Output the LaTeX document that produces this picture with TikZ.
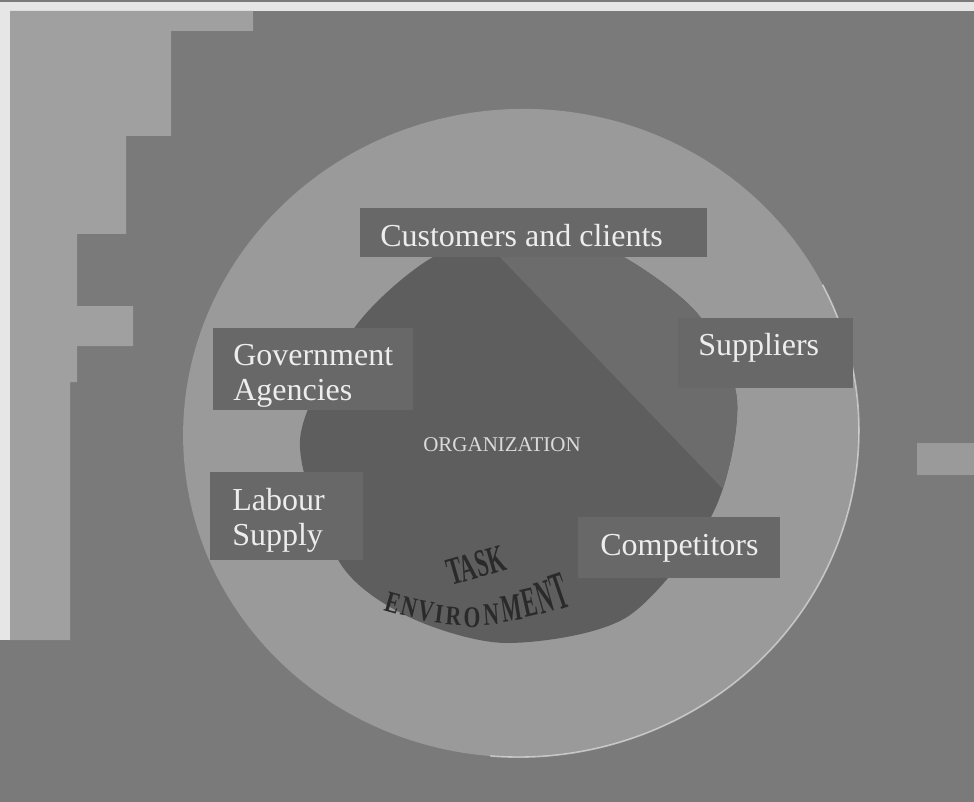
\documentclass[tikz,border=0pt]{standalone}
\usepackage{fontspec}
\setmainfont{Liberation Serif}
\definecolor{bggray}{HTML}{7A7A7A}
\definecolor{papergray}{HTML}{E6E6E6}
\definecolor{scanlight}{HTML}{A0A0A0}
\definecolor{ringgray}{HTML}{9A9A9A}
\definecolor{orggray}{HTML}{5E5E5E}
\definecolor{facegray}{HTML}{6C6C6C}
\definecolor{panelgray}{HTML}{686868}
\definecolor{paneltxt}{HTML}{EDEDED}
\definecolor{orgtxt}{HTML}{DADADA}
\definecolor{wordink}{HTML}{2A2A2A}
\newcommand{\orgshape}{plot[smooth cycle] coordinates {(300,440) (340,563) (409,617) (507,643) (627,617) (713,513) (737,400) (697,313) (610,250) (520,232) (433,257) (355,327)}}

\begin{document}
\begin{tikzpicture}[
    x=0.75pt, y=-0.75pt,
    panel/.style={rectangle, fill=panelgray, inner sep=0pt, anchor=north west},
    paneltext/.style={anchor=base west, inner sep=0pt, text=paneltxt, align=left, font=\fontsize{24}{26.25}\selectfont},
    wordart/.style={anchor=base, inner sep=0pt, transform shape, text=wordink, font=\fontsize{22.5}{24}\selectfont\bfseries}
]
\useasboundingbox (0,0) rectangle (974,802);
% scanned page
\fill[bggray] (0,0) rectangle (974,802);
\fill[papergray] (0,2) rectangle (974,11);
\fill[papergray] (0,11) rectangle (10,640);
\fill[scanlight] (10,11) -- (253,11) -- (253,31) -- (171,31) -- (171,136) -- (126,136) -- (126,234) -- (77,234) -- (77,306) -- (133,306) -- (133,346) -- (77,346) -- (77,382) -- (70,382) -- (70,640) -- (10,640) -- cycle;
\fill[scanlight!85!bggray] (917,443) rectangle (974,475);

% environment ring
\begin{scope}[shift={(521,433)}, rotate=5]
  \fill[ringgray] (0,0) ellipse [x radius=338, y radius=324];
  \draw[white, opacity=0.5, line width=1.2pt] (-22:338 and 324) arc [start angle=-22, end angle=100, x radius=338, y radius=324];
\end{scope}

% organization
\fill[orggray] \orgshape;
\begin{scope}
  \clip \orgshape;
  \fill[facegray] (495,252) -- (722,488) -- (800,488) -- (800,200) -- (495,200) -- cycle;
\end{scope}

% task environment panels
\node[panel, minimum width=260.25pt, minimum height=36.75pt] (cust) at (360,208) {};
\node[panel, minimum width=150pt, minimum height=61.5pt] (gov) at (213,328) {};
\node[panel, minimum width=131.25pt, minimum height=52.5pt] (supp) at (678,318) {};
\node[panel, minimum width=114.75pt, minimum height=66pt] (labour) at (210,472) {};
\node[panel, minimum width=151.5pt, minimum height=45.75pt] (comp) at (578,517) {};

\node[paneltext] (custtxt) at (380,247) {Customers and clients};
\node[paneltext] (govtxt) at (233,400) {Government\\Agencies};
\node[paneltext] (supptxt) at (698,355) {Suppliers};
\node[paneltext] (labourtxt) at (232,545) {Labour\\Supply};
\node[paneltext] (comptxt) at (600,555) {Competitors};

\node[anchor=base, inner sep=0pt, text=orgtxt, font=\fontsize{15.75}{18}\selectfont] (org) at (502,451) {ORGANIZATION};

% curved title
\node[wordart, anchor=base west, rotate=16, xscale=0.74, yscale=1.3] (task) at (451,586) {TASK};
\foreach \ch/\px/\py/\rot/\ys [count=\i] in {E/390/612/-16/1.0, N/407/616/-13/0.95, V/424/621/-10/1.0, I/438/623/-7/0.9, R/453/625/-4/0.9, O/472/627/0/1.0, N/492/625/4/1.05, M/514/621/9/1.3, E/533/616/13/1.4, N/549/612/16/1.6, T/565/608/19/1.8}
  \node[wordart, rotate=\rot, xscale=0.72, yscale=\ys] (env\i) at (\px,\py) {\ch};
\end{tikzpicture}
\end{document}
